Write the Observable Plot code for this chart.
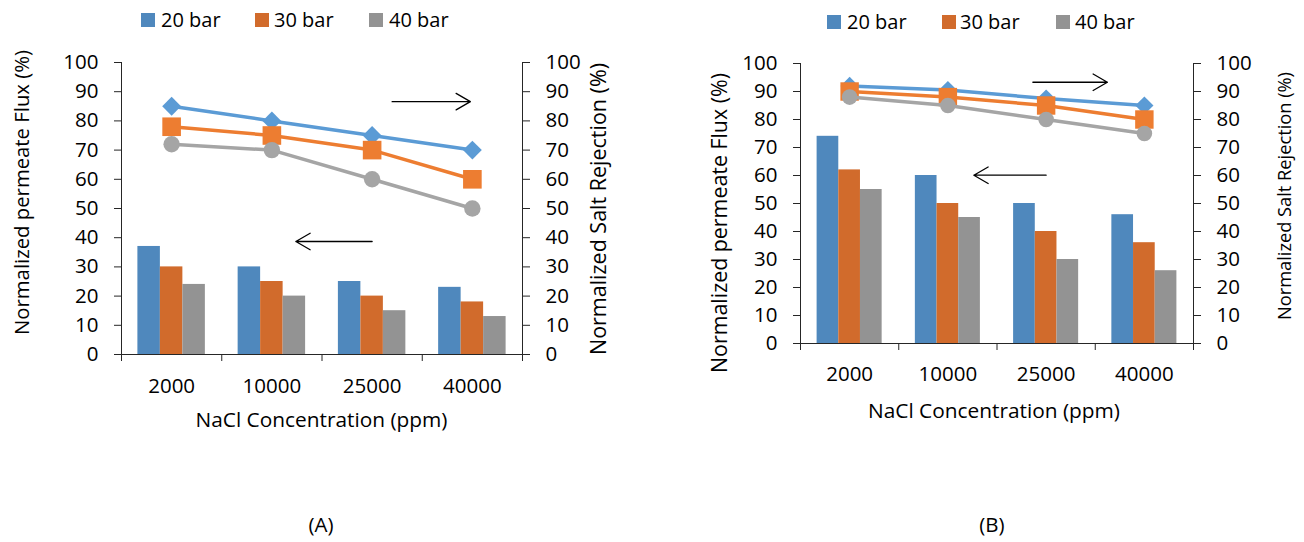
<!DOCTYPE html>
<html>
<head>
<meta charset="utf-8">
<script src="https://cdn.jsdelivr.net/npm/d3@7"></script>
<script src="https://cdn.jsdelivr.net/npm/@observablehq/plot@0.6"></script>
<style>
  html, body { margin: 0; padding: 0; background: #fff; }
  #root { position: relative; width: 1304px; height: 542px; overflow: hidden; background: #fff; }
  #root svg { position: absolute; top: 0; }
</style>
</head>
<body>
<div id="root"></div>
<script>
// ---------- data ----------
const categories = ["2000", "10000", "25000", "40000"];
const seriesNames = ["20 bar", "30 bar", "40 bar"];
const yTicks = [0, 10, 20, 30, 40, 50, 60, 70, 80, 90, 100];

// Panel (A): normalized permeate flux (bars, left axis)
const fluxA20 = [37, 30, 25, 23];
const fluxA30 = [30, 25, 20, 18];
const fluxA40 = [24, 20, 15, 13];
// Panel (A): normalized salt rejection (lines, right axis)
const rejA20 = [85, 80, 75, 70];
const rejA30 = [78, 75, 70, 60];
const rejA40 = [72, 70, 60, 50];

// Panel (B)
const fluxB20 = [74, 60, 50, 46];
const fluxB30 = [62, 50, 40, 36];
const fluxB40 = [55, 45, 30, 26];
const rejB20 = [92, 90.5, 87.5, 85];
const rejB30 = [90, 88, 85, 80];
const rejB40 = [88, 85, 80, 75];

// annotation arrows (category from/to, value level)
const arrowsA = [
  {from: "25000", to: "40000", y: 86.6},
  {from: "25000", to: "10000", y: 38.7}
];
const arrowsB = [
  {from: "10000", to: "40000", y: 93.3},
  {from: "25000", to: "10000", y: 60.1}
];

const xTitle = "NaCl Concentration (ppm)";
const yTitleLeft = "Normalized permeate Flux (%)";
const yTitleRight = "Normalized Salt Rejection (%)";
const captions = ["(A)", "(B)"];

// ---------- styles ----------
const barColors = ["#4f88bd", "#d16b2c", "#939393"];
const lineColors = ["#5b9bd5", "#ed7d31", "#a5a5a5"];
const symbols = ["diamond2", "square", "circle"];
const axisColor = "#262626";
const FONT = "Open Sans";

function rows(values) {
  return categories.map((c, j) => ({cat: c, v: values[j]}));
}

function panel(cfg) {
  const {flux, rej, arrows, width, height, mL, mR, mT, mB, groupFrac, dotR, arrowInsets, labelPad} = cfg;
  const bw = (width - mL - mR) / categories.length;
  const groupW = bw * groupFrac;
  const barW = groupW / seriesNames.length;
  const marks = [];
  seriesNames.forEach((s, i) => {
    const left = (bw - groupW) / 2 + i * barW;
    marks.push(Plot.barY(rows(flux[i]), {
      x: "cat", y: "v", fill: barColors[i],
      insetLeft: left, insetRight: bw - left - barW
    }));
  });
  marks.push(
    Plot.frame({anchor: "left", stroke: axisColor}),
    Plot.frame({anchor: "right", stroke: axisColor}),
    Plot.frame({anchor: "bottom", stroke: axisColor}),
    Plot.axisY({anchor: "left", ticks: yTicks, tickSize: 7, tickPadding: 16, label: null, stroke: axisColor}),
    Plot.axisY({anchor: "right", ticks: yTicks, tickSize: 7, tickPadding: 16, label: null, stroke: axisColor}),
    Plot.axisX({ticks: categories, tickSize: 7, tickFormat: () => "", label: null, dx: -bw / 2, stroke: axisColor}),
    Plot.axisX({ticks: [categories[categories.length - 1]], tickSize: 7, tickFormat: () => "", label: null, dx: bw / 2, stroke: axisColor}),
    Plot.axisX({ticks: categories, tickSize: 0, tickPadding: labelPad, label: null})
  );
  seriesNames.forEach((s, i) => {
    marks.push(
      Plot.line(rows(rej[i]), {x: "cat", y: "v", stroke: lineColors[i], strokeWidth: 3.5}),
      Plot.dot(rows(rej[i]), {x: "cat", y: "v", symbol: symbols[i], r: dotR[i], fill: lineColors[i], stroke: "none"})
    );
  });
  arrows.forEach((a, k) => {
    marks.push(Plot.arrow([a], {
      x1: "from", x2: "to", y1: "y", y2: "y",
      stroke: "#000", strokeWidth: 1.3, headLength: 19, headAngle: 60,
      insetStart: arrowInsets[k][0], insetEnd: arrowInsets[k][1]
    }));
  });
  return Plot.plot({
    width, height,
    marginLeft: mL, marginRight: mR, marginTop: mT, marginBottom: mB,
    x: {type: "band", domain: categories, padding: 0, round: false},
    y: {domain: [0, 100]},
    style: {fontFamily: FONT, fontSize: "20.5px", color: "#000", background: "transparent", overflow: "visible"},
    marks
  });
}

const root = document.getElementById("root");

const svgA = panel({
  flux: [fluxA20, fluxA30, fluxA40], rej: [rejA20, rejA30, rejA40], arrows: arrowsA,
  width: 650, height: 440, mL: 121, mR: 128, mT: 62, mB: 86,
  groupFrac: 0.673, dotR: [8.5, 10.5, 8.2], arrowInsets: [[20, 2], [0, 24]], labelPad: 24
});
svgA.style.left = "0px";
root.appendChild(svgA);

const svgB = panel({
  flux: [fluxB20, fluxB30, fluxB40], rej: [rejB20, rejB30, rejB40], arrows: arrowsB,
  width: 654, height: 440, mL: 150, mR: 111, mT: 63, mB: 97,
  groupFrac: 0.662, dotR: [8.2, 10.4, 7.8], arrowInsets: [[85, 37], [0, 26]], labelPad: 23
});
svgB.style.left = "650px";
root.appendChild(svgB);

// ---------- overlay text: legends, titles, captions ----------
const ov = d3.select(root).append("svg")
  .attr("width", 1304).attr("height", 542)
  .style("left", "0px").style("pointer-events", "none")
  .attr("font-family", FONT).attr("fill", "#000");

function addText({x, y, text, size = 20.5, anchor = "middle", rotate = 0, length = null}) {
  const t = ov.append("text")
    .attr("x", x).attr("y", y)
    .attr("text-anchor", anchor)
    .attr("font-size", size)
    .text(text);
  if (rotate) t.attr("transform", `rotate(${rotate},${x},${y})`);
  if (length) t.attr("textLength", length).attr("lengthAdjust", "spacingAndGlyphs");
}

// legends
const legendA = {sq: [141, 255, 369], tx: [161, 274, 389], sqY: 13, base: 27};
const legendB = {sq: [827, 942, 1056], tx: [847, 960, 1075], sqY: 15, base: 28.5};
[legendA, legendB].forEach(L => {
  seriesNames.forEach((s, i) => {
    ov.append("rect").attr("x", L.sq[i]).attr("y", L.sqY).attr("width", 14).attr("height", 14).attr("fill", barColors[i]);
    addText({x: L.tx[i], y: L.base, text: s, size: 20, anchor: "start"});
  });
});

// axis titles
addText({x: 28.8, y: 192.5, text: yTitleLeft, size: 20.3, rotate: -90, length: 285});
addText({x: 605.5, y: 209, text: yTitleRight, size: 21.4, rotate: -90, length: 292});
addText({x: 727, y: 223, text: yTitleLeft, size: 21.3, rotate: -90, length: 300});
addText({x: 1291, y: 196, text: yTitleRight, size: 18.2, rotate: -90, length: 248});
addText({x: 321.5, y: 427, text: xTitle, size: 20.8, length: 252});
addText({x: 994, y: 418, text: xTitle, size: 20.8, length: 252});

// captions
addText({x: 321, y: 532, text: captions[0], size: 20.5});
addText({x: 992, y: 532, text: captions[1], size: 20.5});
</script>
</body>
</html>
